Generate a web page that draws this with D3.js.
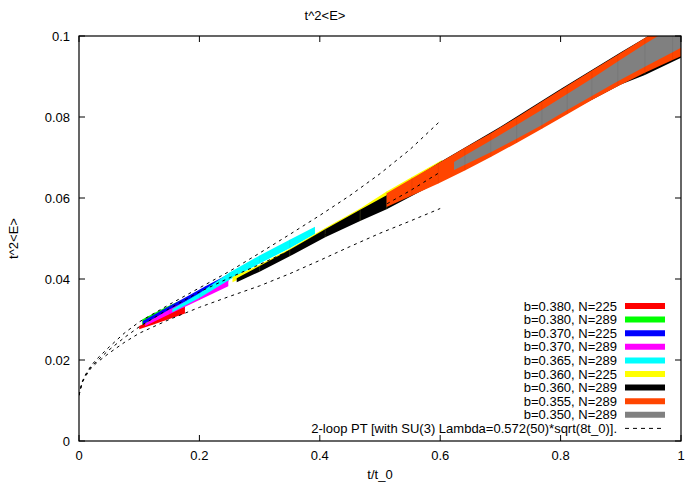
<!DOCTYPE html>
<html>
<head>
<meta charset="utf-8">
<script src="https://cdn.jsdelivr.net/npm/d3@7"></script>
<style>
body{margin:0;background:#fff;}
text{font-family:"Liberation Sans",Arial,Helvetica,sans-serif;font-size:13px;fill:#000;}
</style>
</head>
<body>
<div id="plot"></div>
<script>
// data
var xTicks = [0, 0.2, 0.4, 0.6, 0.8, 1];
var yTicks = [0, 0.02, 0.04, 0.06, 0.08, 0.1];

// each band: t values with lower / upper edge
var redT = [0.100, 0.125, 0.150, 0.176];
var redLo = [0.0276, 0.0288, 0.0301, 0.0315];
var redHi = [0.0284, 0.0301, 0.0317, 0.0332];

var greenT = [0.105, 0.125, 0.145, 0.168];
var greenLo = [0.0287, 0.0300, 0.0313, 0.0327];
var greenHi = [0.0300, 0.0316, 0.0331, 0.0347];

var blueT = [0.106, 0.140, 0.175, 0.210, 0.248];
var blueLo = [0.0288, 0.0314, 0.0339, 0.0365, 0.0394];
var blueHi = [0.0296, 0.0325, 0.0353, 0.0382, 0.0412];

var magT = [0.110, 0.150, 0.200, 0.248];
var magLo = [0.0284, 0.0313, 0.0348, 0.0382];
var magHi = [0.0290, 0.0325, 0.0362, 0.0400];

var cyanT = [0.155, 0.200, 0.250, 0.300, 0.350, 0.392];
var cyanLo = [0.0318, 0.0353, 0.0398, 0.0438, 0.0476, 0.0511];
var cyanHi = [0.0326, 0.0365, 0.0416, 0.0458, 0.0497, 0.0529];

var yelT = [0.255, 0.300, 0.350, 0.409, 0.467, 0.511, 0.553, 0.603];
var yelLo = [0.0392, 0.0425, 0.0462, 0.0510, 0.0550, 0.0580, 0.0615, 0.0650];
var yelHi = [0.0405, 0.0435, 0.0475, 0.0526, 0.0574, 0.0616, 0.0652, 0.0694];

var blackT = [0.262, 0.300, 0.350, 0.409, 0.467, 0.511, 0.600, 0.700, 0.800, 0.900, 0.940, 1.000, 1.030];
var blackLo = [0.0392, 0.0418, 0.0456, 0.0503, 0.0543, 0.0572, 0.0642, 0.0722, 0.0802, 0.0880, 0.0904, 0.0946, 0.0967];
var blackHi = [0.0402, 0.0432, 0.0472, 0.0523, 0.0571, 0.0607, 0.0689, 0.0776, 0.0869, 0.0960, 0.0995, 0.1050, 0.1078];

var orT = [0.511, 0.553, 0.597, 0.641, 0.684, 0.727, 0.769, 0.811, 0.852, 0.895, 0.940, 0.986, 1.030];
var orLo = [0.0578, 0.0606, 0.0636, 0.0668, 0.0701, 0.0736, 0.0771, 0.0807, 0.0842, 0.0876, 0.0909, 0.0941, 0.0970];
var orHi = [0.0612, 0.0648, 0.0686, 0.0724, 0.0760, 0.0799, 0.0838, 0.0877, 0.0915, 0.0954, 0.0995, 0.1037, 0.1077];

var grayT = [0.623, 0.641, 0.684, 0.727, 0.769, 0.811, 0.852, 0.895, 0.940, 0.986, 1.030];
var grayLo = [0.0669, 0.0682, 0.0713, 0.0746, 0.0780, 0.0817, 0.0852, 0.0888, 0.0924, 0.0960, 0.0994];
var grayHi = [0.0689, 0.0705, 0.0742, 0.0780, 0.0818, 0.0857, 0.0895, 0.0937, 0.0980, 0.1022, 0.1062];

// 2-loop PT curves (upper, central, lower)
var ptT = [0, 0.005, 0.01, 0.02, 0.03, 0.05, 0.075, 0.1, 0.15, 0.2, 0.25, 0.3, 0.35, 0.4, 0.45, 0.5, 0.55, 0.6];
var ptUp = [0.0113, 0.0145, 0.0162, 0.0186, 0.0203, 0.0232, 0.0266, 0.0294, 0.0337, 0.0378, 0.0419, 0.0464, 0.0510, 0.0557, 0.0606, 0.0660, 0.0720, 0.0790];
var ptMid = [0.0113, 0.0144, 0.0160, 0.0183, 0.0198, 0.0225, 0.0255, 0.0282, 0.0327, 0.0368, 0.0403, 0.0436, 0.0470, 0.0503, 0.0538, 0.0576, 0.0618, 0.0664];
var ptLow = [0.0113, 0.0143, 0.0158, 0.0180, 0.0194, 0.0217, 0.0243, 0.0266, 0.0300, 0.0330, 0.0357, 0.0383, 0.0413, 0.0446, 0.0480, 0.0513, 0.0543, 0.0574];

var labels = ['b=0.380, N=225','b=0.380, N=289','b=0.370, N=225','b=0.370, N=289','b=0.365, N=289',
	'b=0.360, N=225','b=0.360, N=289','b=0.355, N=289','b=0.350, N=289'];
var colors = ['#ff0000','#00ff00','#0000ff','#ff00ff','#00ffff','#ffff00','#000000','#ff4500','#808080'];
var ptLabel = '2-loop PT [with SU(3) Lambda=0.572(50)*sqrt(8t_0)].';

var bands = [
	[redT, redLo, redHi], [greenT, greenLo, greenHi], [blueT, blueLo, blueHi],
	[magT, magLo, magHi], [cyanT, cyanLo, cyanHi], [yelT, yelLo, yelHi],
	[blackT, blackLo, blackHi], [orT, orLo, orHi], [grayT, grayLo, grayHi]
];

//Set up the drawing environment here
var W = 685, H = 483;
var margin = {t:36,r:4,b:42,l:79};
var width = W-margin.l-margin.r,
	height = H-margin.t-margin.b;

var svg = d3.select('#plot')
	.append('svg')
	.attr('width',W)
	.attr('height',H);

var x = d3.scaleLinear().domain([0,1]).range([0,width]);
var y = d3.scaleLinear().domain([0,0.1]).range([height,0]);

svg.append('defs').append('clipPath').attr('id','clip')
	.append('rect').attr('width',width).attr('height',height);

var plot = svg.append('g')
	.attr('transform','translate('+margin.l+','+margin.t+')');

var inner = plot.append('g').attr('clip-path','url(#clip)');

var area = d3.area()
	.x(function(d){return x(d.t);})
	.y0(function(d){return y(d.lo);})
	.y1(function(d){return y(d.hi);});

bands.forEach(function(b,i){
	var pts = b[0].map(function(t,j){return {t:t, lo:b[1][j], hi:b[2][j]};});
	inner.append('path')
		.datum(pts)
		.attr('d',area)
		.style('fill',colors[i]);
	// faint seams at the sample points
	var seam = i==6 ? '#8a8a3a' : d3.color(colors[i]).darker(0.6).toString();
	inner.selectAll('.seam'+i)
		.data(pts.slice(1,pts.length-1))
		.enter()
		.append('line')
		.attr('x1',function(d){return x(d.t);})
		.attr('x2',function(d){return x(d.t);})
		.attr('y1',function(d){return y(d.lo);})
		.attr('y2',function(d){return y(d.hi);})
		.style('stroke',seam)
		.style('stroke-opacity',0.3)
		.style('stroke-width',1);
});

var line = d3.line()
	.x(function(d){return x(d[0]);})
	.y(function(d){return y(d[1]);});

[ptUp, ptMid, ptLow].forEach(function(c){
	inner.append('path')
		.datum(ptT.map(function(t,j){return [t,c[j]];}))
		.attr('d',line)
		.style('fill','none')
		.style('stroke','#000')
		.style('stroke-width',1)
		.style('stroke-dasharray','3,4');
});

// ticks, inward on all four sides
var tick = 6;
xTicks.forEach(function(v){
	plot.append('line').attr('x1',x(v)).attr('x2',x(v)).attr('y1',height).attr('y2',height-tick).style('stroke','#000');
	plot.append('line').attr('x1',x(v)).attr('x2',x(v)).attr('y1',0).attr('y2',tick).style('stroke','#000');
	plot.append('text')
		.attr('x',x(v)).attr('y',height+19)
		.attr('text-anchor','middle')
		.text(v);
});
yTicks.forEach(function(v){
	plot.append('line').attr('x1',0).attr('x2',tick).attr('y1',y(v)).attr('y2',y(v)).style('stroke','#000');
	plot.append('line').attr('x1',width).attr('x2',width-tick).attr('y1',y(v)).attr('y2',y(v)).style('stroke','#000');
	plot.append('text')
		.attr('x',-9).attr('y',y(v))
		.attr('dy','0.35em')
		.attr('text-anchor','end')
		.text(v);
});

plot.append('rect')
	.attr('width',width).attr('height',height)
	.style('fill','none')
	.style('stroke','#000')
	.style('stroke-width',1.2);

// legend
var legX = 617, legY = 306, legStep = 13.6;
labels.concat([ptLabel]).forEach(function(l,i){
	var yy = legY + i*legStep;
	svg.append('text')
		.attr('x',legX).attr('y',yy)
		.attr('dy','0.35em')
		.attr('text-anchor','end')
		.text(l);
	if(i<labels.length){
		svg.append('line')
			.attr('x1',625).attr('x2',665)
			.attr('y1',yy).attr('y2',yy)
			.style('stroke',colors[i])
			.style('stroke-width',6);
	} else {
		svg.append('line')
			.attr('x1',625).attr('x2',665)
			.attr('y1',yy).attr('y2',yy)
			.style('stroke','#000')
			.style('stroke-width',1)
			.style('stroke-dasharray','4,4');
	}
});

// titles
svg.append('text').attr('x',325).attr('y',20).attr('text-anchor','middle').text('t^2<E>');
svg.append('text').attr('x',margin.l+width/2).attr('y',479).attr('text-anchor','middle').text('t/t_0');
svg.append('text')
	.attr('transform','translate(18,'+(margin.t+height/2)+') rotate(-90)')
	.attr('text-anchor','middle')
	.text('t^2<E>');
</script>
</body>
</html>
